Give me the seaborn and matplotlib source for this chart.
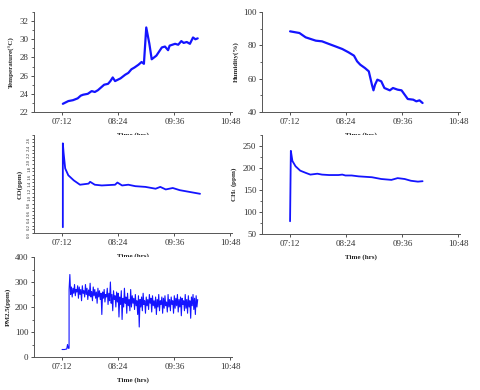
import pandas as pd
import numpy as np
import matplotlib
matplotlib.use('Agg')
import matplotlib.pyplot as plt
import matplotlib.dates as mdates
from matplotlib.ticker import AutoMinorLocator, MultipleLocator
import seaborn as sns

# temperature (deg C)
temp_time = ['07:13', '07:20', '07:26', '07:32', '07:36', '07:39', '07:45', '07:50', '07:54',
             '07:58', '08:02', '08:06', '08:11', '08:14', '08:17', '08:20', '08:27', '08:33',
             '08:37', '08:41', '08:45', '08:50', '08:54', '08:57', '09:00', '09:04', '09:07',
             '09:13', '09:20', '09:24', '09:28', '09:30', '09:37', '09:41', '09:45', '09:48',
             '09:52', '09:56', '10:00', '10:03', '10:06']
temp_val = [22.9, 23.2, 23.3, 23.5, 23.8, 23.9, 24.0, 24.3, 24.2,
            24.4, 24.7, 25.0, 25.1, 25.4, 25.8, 25.4, 25.7, 26.1,
            26.3, 26.7, 26.9, 27.2, 27.5, 27.3, 31.3, 29.5, 27.8,
            28.2, 29.1, 29.2, 28.8, 29.3, 29.5, 29.4, 29.8, 29.6,
            29.7, 29.5, 30.2, 30.0, 30.1]

# humidity (%)
hum_time = ['07:12', '07:24', '07:32', '07:45', '07:53', '08:02', '08:10', '08:19', '08:27',
            '08:34', '08:38', '08:42', '08:48', '08:53', '08:57', '08:59', '09:01', '09:04',
            '09:09', '09:13', '09:20', '09:24', '09:30', '09:35', '09:39', '09:43', '09:50',
            '09:54', '09:58', '10:02']
hum_val = [88.4, 87.4, 84.8, 82.8, 82.4, 80.8, 79.4, 77.8, 75.8,
           73.8, 70.4, 68.4, 66.4, 64.4, 56.4, 53.0, 56.4, 59.4,
           58.4, 54.4, 53.0, 54.4, 53.4, 53.0, 50.4, 47.8, 47.4,
           46.4, 47.0, 45.4]

# CO (ppm)
co_time = ['07:13', '07:13', '07:14', '07:16', '07:20', '07:27', '07:35', '07:46', '07:48',
           '07:54', '08:03', '08:20', '08:23', '08:29', '08:37', '08:46', '08:59', '09:12',
           '09:18', '09:25', '09:34', '09:43', '09:56', '10:09']
co_val = [0.16, 2.47, 2.2, 1.78, 1.59, 1.45, 1.33, 1.36, 1.41,
          1.33, 1.31, 1.33, 1.39, 1.31, 1.33, 1.29, 1.27, 1.22,
          1.27, 1.20, 1.24, 1.18, 1.13, 1.08]

# CH4 (ppm)
ch4_time = ['07:12', '07:13', '07:15', '07:19', '07:25', '07:32', '07:38', '07:47', '07:53',
            '08:02', '08:14', '08:19', '08:23', '08:31', '08:40', '08:57', '09:09', '09:22',
            '09:30', '09:39', '09:47', '09:56', '10:02']
ch4_val = [79, 239, 216, 204, 194, 189, 185, 187, 185,
           184, 184, 185, 183, 183, 181, 179, 175, 173,
           177, 175, 171, 169, 170]

# PM2.5 (ppm), one reading per minute after the jump
pm_start = ['07:12', '07:15', '07:18', '07:19', '07:20', '07:21', '07:21']
pm_start_val = [30, 30, 32, 50, 35, 35, 270]
pm_vals = [330,
           250, 280, 240, 275, 255, 290, 245, 270, 260, 285,
           235, 280, 250, 270, 225, 285, 255, 265, 240, 290,
           250, 275, 230, 268, 245, 295, 240, 262, 225, 280,
           245, 270, 235, 260, 215, 275, 240, 265, 230, 255,
           170, 260, 235, 270, 220, 250, 240, 275, 210, 255,
           225, 300, 215, 250, 185, 265, 230, 245, 200, 260,
           220, 255, 160, 240, 210, 265, 150, 235, 200, 275,
           215, 240, 175, 255, 205, 230, 185, 270, 200, 245,
           215, 235, 190, 250, 205, 225, 170, 245, 120, 230,
           200, 240, 185, 255, 210, 225, 175, 240, 205, 230,
           190, 250, 215, 235, 180, 245, 205, 225, 195, 240,
           170, 230, 200, 250, 185, 225, 210, 240, 175, 235,
           195, 245, 205, 220, 180, 250, 200, 230, 185, 240,
           210, 225, 175, 245, 195, 235, 205, 250, 180, 230,
           200, 240, 165, 235, 210, 225, 185, 250, 195, 230,
           175, 245, 200, 225, 155, 240, 205, 250, 190, 235,
           170, 245, 200, 230]


def to_dt(times):
    return pd.to_datetime(['2020-01-01 ' + t for t in times])


pm_time = list(to_dt(pm_start)) + list(pd.date_range('2020-01-01 07:22', periods=len(pm_vals), freq='1min'))
pm_val = pm_start_val + pm_vals

sns.set_style('ticks')
plt.rcParams['font.family'] = ['Liberation Serif', 'DejaVu Serif']
plt.rcParams['mathtext.fontset'] = 'stix'

fig = plt.figure(figsize=(4.8, 3.9), dpi=100)
W, H = 480, 390


def make_ax(x0, y0, x1, y1):
    return fig.add_axes([x0 / W, (H - y1) / H, (x1 - x0) / W, (y1 - y0) / H])


ax_t = make_ax(34, 12, 232, 112)
ax_h = make_ax(262, 12, 460, 112)
ax_co = make_ax(34, 135, 232, 233)
ax_ch = make_ax(262, 135, 460, 234)
ax_pm = make_ax(34, 257, 232, 357)

blue = '#1414ff'
kw = dict(color=blue, sort=False, estimator=None)
sns.lineplot(x=to_dt(temp_time), y=temp_val, ax=ax_t, lw=1.6, **kw)
sns.lineplot(x=to_dt(hum_time), y=hum_val, ax=ax_h, lw=1.6, **kw)
sns.lineplot(x=to_dt(co_time), y=co_val, ax=ax_co, lw=1.3, **kw)
sns.lineplot(x=to_dt(ch4_time), y=ch4_val, ax=ax_ch, lw=1.3, **kw)
sns.lineplot(x=pm_time, y=pm_val, ax=ax_pm, lw=0.8, **kw)

xticks = to_dt(['07:12', '08:24', '09:36', '10:48'])
xlim = to_dt(['06:36', '10:50'])

for ax in [ax_t, ax_h, ax_co, ax_ch, ax_pm]:
    ax.set_xlim(xlim[0], xlim[1])
    ax.set_xticks(xticks)
    ax.xaxis.set_major_formatter(mdates.DateFormatter('%H:%M'))
    ax.yaxis.set_minor_locator(AutoMinorLocator(2))
    ax.tick_params(labelsize=6.5, length=2.5, width=0.6, pad=1.5, colors='#333333')
    ax.tick_params(which='minor', length=1.5, width=0.5)
    for s in ['top', 'right']:
        ax.spines[s].set_visible(False)
    for s in ['left', 'bottom']:
        ax.spines[s].set_linewidth(0.7)
        ax.spines[s].set_color('#555555')
    ax.set_xlabel('Time (hrs)', fontsize=5, fontweight='bold', labelpad=5)

ax_t.set_ylim(22, 33)
ax_t.set_yticks([22, 24, 26, 28, 30, 32])
ax_t.set_ylabel('Temperature(\u00b0C)', fontsize=5, fontweight='bold', labelpad=3)

ax_h.set_ylim(40, 100)
ax_h.set_yticks([40, 60, 80, 100])
ax_h.set_ylabel('Humidity(%)', fontsize=5, fontweight='bold', labelpad=3)

ax_co.set_ylim(0, 2.7)
ax_co.yaxis.set_major_locator(MultipleLocator(0.2))
ax_co.yaxis.set_minor_locator(MultipleLocator(0.1))
ax_co.tick_params(axis='y', labelsize=3.5, labelrotation=90, length=1.5, pad=0.5)
ax_co.set_ylabel('CO(ppm)', fontsize=5, fontweight='bold', labelpad=3)

ax_ch.set_ylim(50, 275)
ax_ch.set_yticks([50, 100, 150, 200, 250])
ax_ch.set_ylabel('CH$_4$ (ppm)', fontsize=5, fontweight='bold', labelpad=3)

ax_pm.set_ylim(0, 400)
ax_pm.set_yticks([0, 100, 200, 300, 400])
ax_pm.set_ylabel('PM2.5(ppm)', fontsize=5, fontweight='bold', labelpad=3)

fig.savefig('out.png', dpi=100)
